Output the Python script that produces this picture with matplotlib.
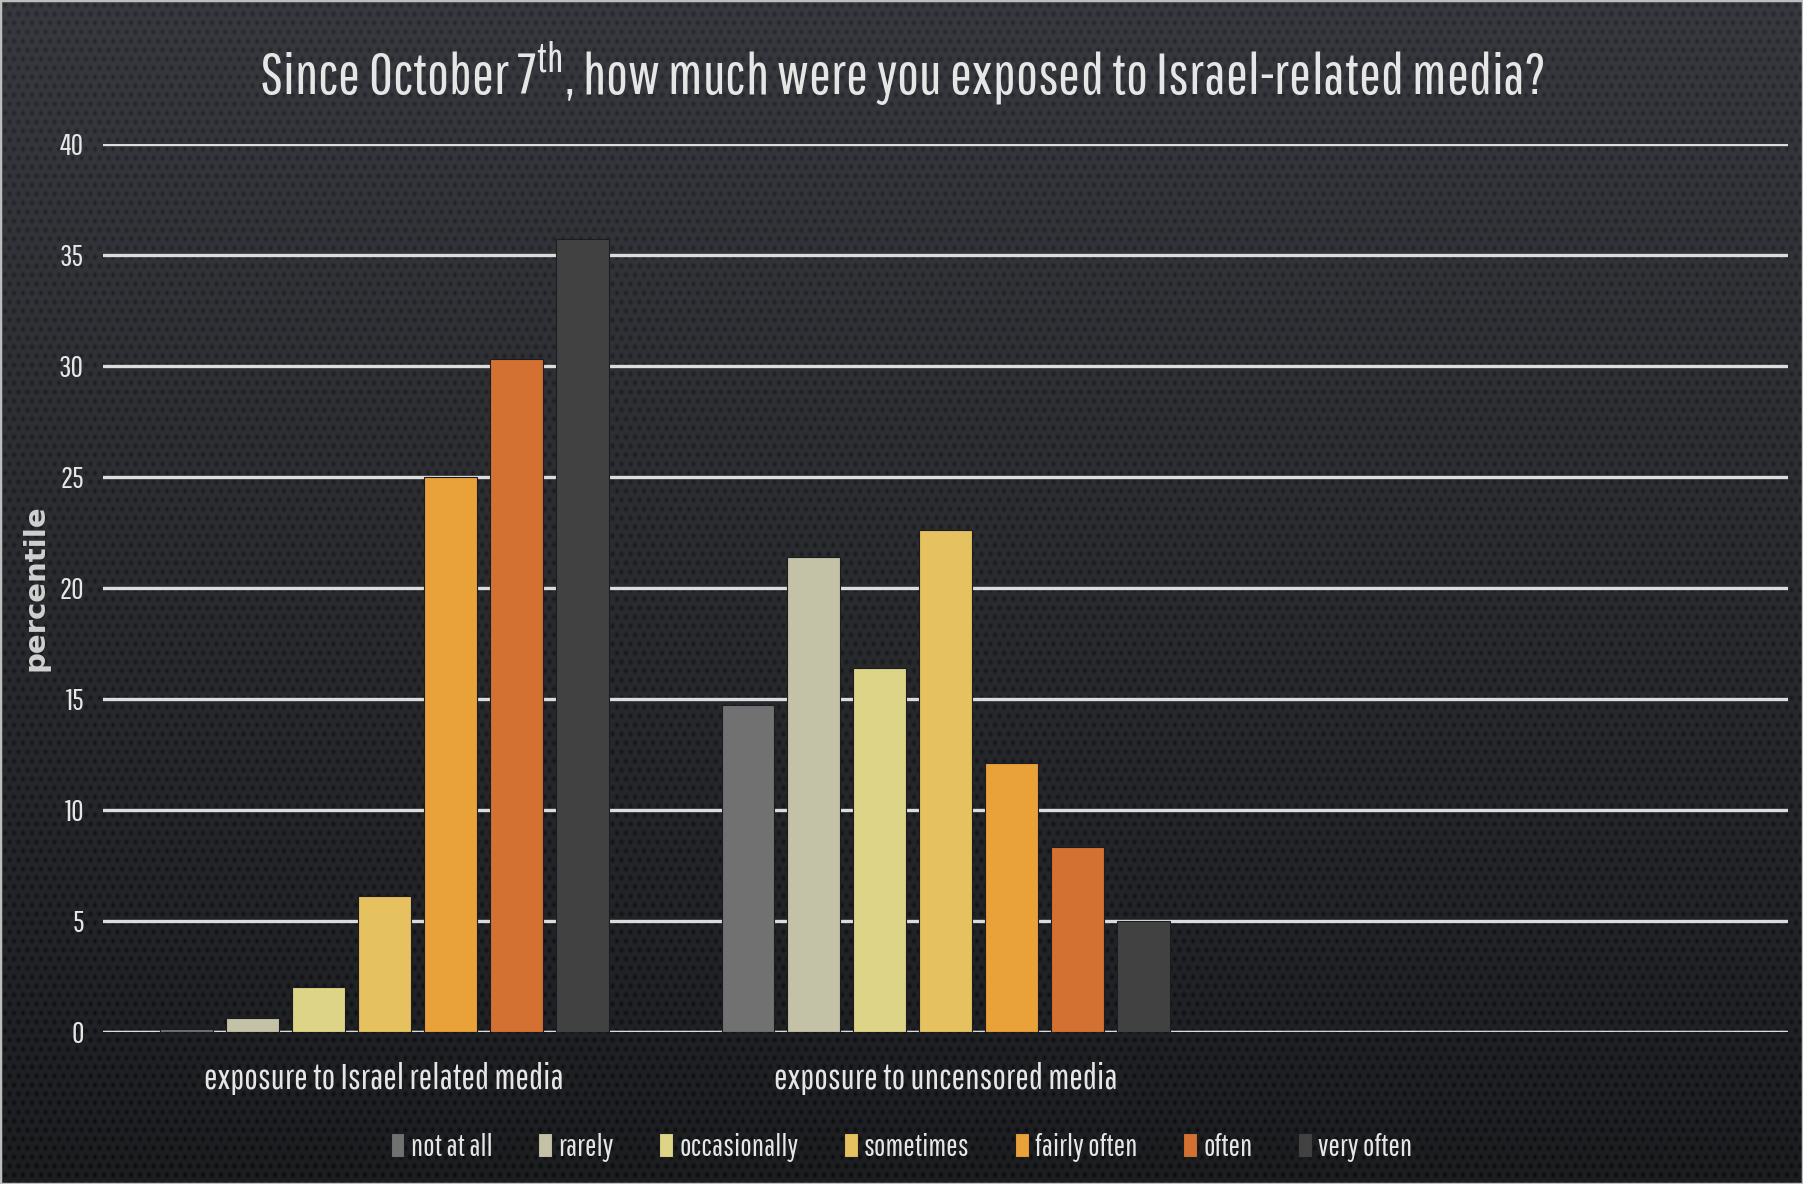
import matplotlib
matplotlib.use("Agg")
import matplotlib.pyplot as plt
import numpy as np
from matplotlib.patches import Rectangle

W, H, DPI = 1803, 1184, 100

TITLE = "Since October 7$^{\\mathrm{th}}$, how much were you exposed to Israel-related media?"
GROUPS = ["exposure to Israel related media", "exposure to uncensored media", ""]
LEVELS = ["not at all", "rarely", "occasionally", "sometimes", "fairly often", "often", "very often"]
COLORS = ["#717171", "#c3c2a6", "#ddd488", "#e6c15f", "#e9a13a", "#d27132", "#414141"]

# percent per level, one list per group (third group has no responses)
ISRAEL_MEDIA = [0.1, 0.6, 2.0, 6.1, 25.0, 30.3, 35.7]
UNCENSORED_MEDIA = [14.7, 21.4, 16.4, 22.6, 12.1, 8.3, 5.0]
EMPTY_GROUP = [0, 0, 0, 0, 0, 0, 0]

Y_TICKS = [0, 5, 10, 15, 20, 25, 30, 35, 40]

FONT = "Pathway Gothic One"
plt.rcParams["font.family"] = [FONT, "DejaVu Sans"]
plt.rcParams["mathtext.fontset"] = "custom"
plt.rcParams["mathtext.rm"] = FONT
TXT = "#e6e6e6"


def backdrop():
    # dark perforated-metal look: vertical gradient with staggered dark dots
    yy, xx = np.mgrid[0:H, 0:W].astype(float)
    base = 0.23 - 0.11 * (yy / H)
    period = 9.0
    row = np.floor(yy / period)
    shift = (row % 2) * period / 2
    dx = ((xx + shift) % period) - period / 2
    dy = (yy % period) - period / 2
    r2 = dx ** 2 + (dy * 0.8) ** 2
    dots = np.exp(-r2 / 4.5)
    val = base - 0.075 * dots
    rgb = np.stack([val * 0.95, val * 0.98, val * 1.07], axis=-1)
    return np.clip(rgb, 0, 1)


fig = plt.figure(figsize=(W / DPI, H / DPI), dpi=DPI)
fig.figimage(backdrop(), xo=0, yo=0, origin="upper", zorder=0)
fig.patches.append(Rectangle((0, 0), 1, 1, transform=fig.transFigure, fill=False,
                             edgecolor="#bdbdbd", linewidth=2.5, zorder=5))

ax = fig.add_axes([0.0574, 0.1288, 0.9344, 0.7498])
ax.set_zorder(2)
ax.set_facecolor("none")

series = np.array([ISRAEL_MEDIA, UNCENSORED_MEDIA, EMPTY_GROUP]).T
x = np.arange(len(GROUPS))
slot = 0.1175
for i, (lvl, c) in enumerate(zip(LEVELS, COLORS)):
    off = (i - (len(LEVELS) - 1) / 2) * slot
    ax.bar(x + off, series[i], width=slot * 0.80, color=c, label=lvl,
           edgecolor="#1c1d20", linewidth=0.8, zorder=3)

ax.set_xlim(-0.5, len(GROUPS) - 0.5)
ax.set_ylim(0, 40)
ax.set_yticks(Y_TICKS)
ax.yaxis.grid(True, color="#dcdcdc", linewidth=2.4, zorder=1)
ax.set_axisbelow(True)
ax.axhline(0, color="#dcdcdc", linewidth=2.4, zorder=2)
for s in ax.spines.values():
    s.set_visible(False)
ax.tick_params(axis="y", length=0, colors=TXT, labelsize=22, pad=14)
ax.set_xticks(x)
ax.set_xticklabels(GROUPS, fontsize=26)
ax.tick_params(axis="x", length=0, colors=TXT, pad=22)
ax.set_ylabel("percentile", color="#d0d0d0", fontsize=21, fontweight="bold",
              family="DejaVu Sans")
ax.yaxis.set_label_coords(-0.032, 0.5)

fig.text(0.5, 0.937, TITLE, ha="center", va="center", color=TXT, fontsize=42)

ax.legend(loc="center", bbox_to_anchor=(0.5, 0.031), bbox_transform=fig.transFigure,
          ncol=len(LEVELS), frameon=False, fontsize=22, handlelength=0.45,
          handleheight=0.85, handletextpad=0.2, columnspacing=1.5, labelcolor=TXT)

fig.savefig("out.png", dpi=DPI)
